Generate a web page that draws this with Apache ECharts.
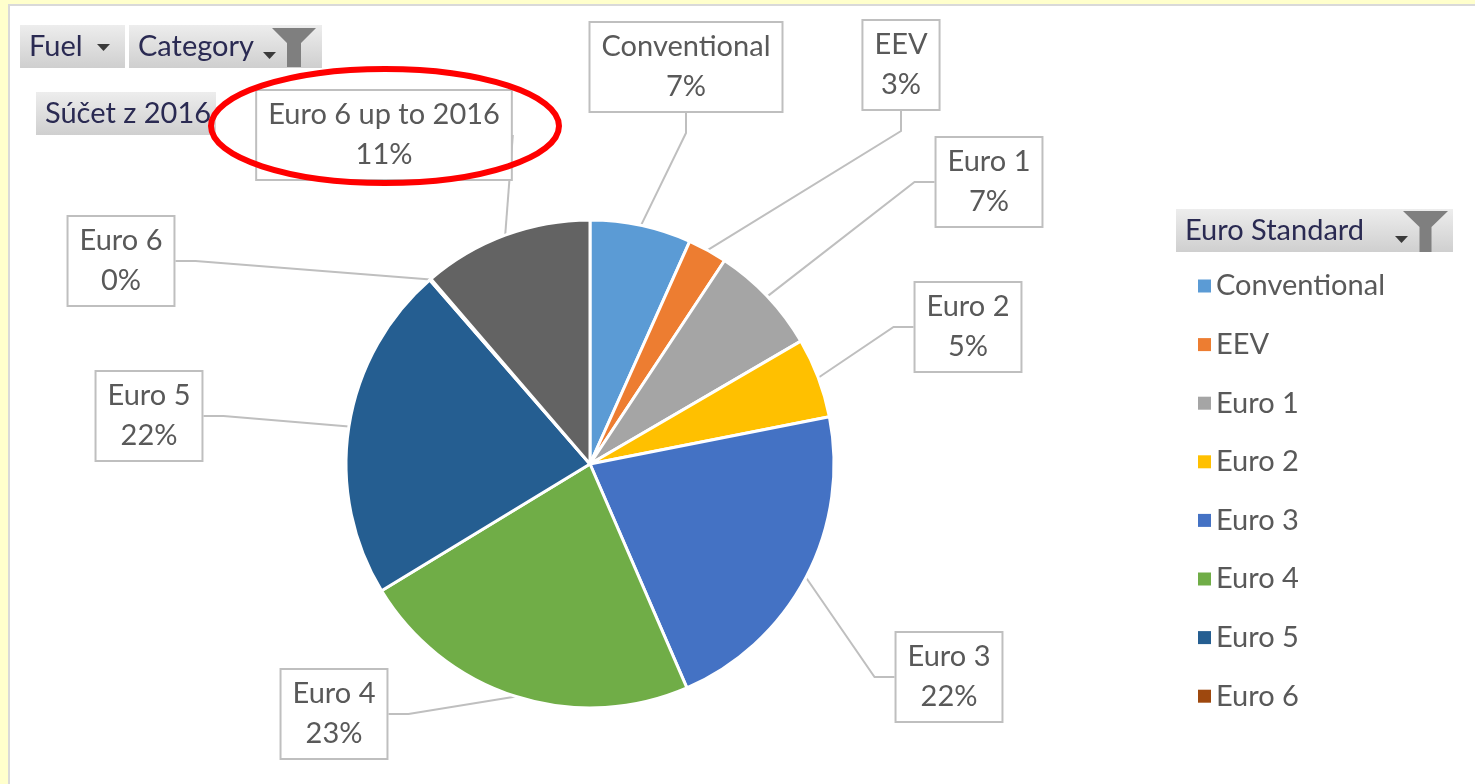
<!DOCTYPE html>
<html><head><meta charset="utf-8">
<script src="https://cdn.jsdelivr.net/npm/echarts@6/dist/echarts.min.js"></script>
<style>html,body{margin:0;padding:0;background:#FFFFCC;overflow:hidden}#c{width:1475px;height:784px;}</style>
</head><body><div id="c"></div>
<script>
// ---- data ----
const categories = ['Conventional','EEV','Euro 1','Euro 2','Euro 3','Euro 4','Euro 5','Euro 6','Euro 6 up to 2016'];
const shares = [6.7, 2.6, 7.3, 5.3, 21.6, 22.8, 22.3, 0.1, 11.3];
const legendItems = ['Conventional','EEV','Euro 1','Euro 2','Euro 3','Euro 4','Euro 5','Euro 6'];
const filterButtons = ['Fuel','Category'];
const valueButton = 'Súčet z 2016';
const legendTitle = 'Euro Standard';

// ---- style / layout ----
const colors = ['#5B9BD5','#ED7D31','#A5A5A5','#FFC000','#4472C4','#70AD47','#255E91','#9E480E','#636363'];
const labelCenters = [[686,67],[901,65],[989,182],[968,327],[949,677],[334,714],[149,416],[121,261],[384,135]];
const FONT = 'Lato';
const total = shares.reduce((a,b)=>a+b,0);

const btnFill = new echarts.graphic.LinearGradient(0,0,0,1,[{offset:0,color:'#EDEDED'},{offset:1,color:'#CFCFCF'}]);
function btn(x,y,w,h,text){
  return [
    {type:'rect', shape:{x:x,y:y,width:w,height:h}, style:{fill:btnFill}, z:1},
    {type:'text', x:x+9, y:y+h/2, style:{text:text, font:'29px '+FONT, fill:'#2A2A52', verticalAlign:'middle'}, z:2}
  ];
}
function arrow(x,y){ return {type:'polygon', shape:{points:[[x,y],[x+13,y],[x+6.5,y+7]]}, style:{fill:'#3A3A3A'}, z:3}; }
function funnel(l,r,top,neck,bottom,stemHalf){
  const m=(l+r)/2;
  return {type:'polygon', shape:{points:[[l,top],[r,top],[m+stemHalf,neck],[m+stemHalf,bottom],[m-stemHalf,bottom],[m-stemHalf,neck]]}, style:{fill:'#7F7F7F'}, z:3};
}

const graphics = [
  {type:'rect', shape:{x:8,y:4,width:1470,height:790}, style:{fill:'#D9D9D9'}, z:-10},
  {type:'rect', shape:{x:10,y:6,width:1470,height:790}, style:{fill:'#FFFFFF'}, z:-9},
  ...btn(20,25,105,43,filterButtons[0]), arrow(97,44),
  ...btn(129,25,193,43,filterButtons[1]), arrow(263,52), funnel(272,316,28,43,67,7),
  ...btn(36,92,180,43,valueButton),
  ...btn(1176,209,277,43,legendTitle), arrow(1395,236), funnel(1403,1448,211,227,252,6),
  {type:'ellipse', shape:{cx:385, cy:126, rx:174, ry:57}, style:{fill:'none', stroke:'#FF0000', lineWidth:6}, z:100}
];

const chart = echarts.init(document.getElementById('c'));
chart.setOption({
  backgroundColor:'#FFFFCC',
  animation:false,
  color: colors,
  graphic: graphics,
  legend: {
    data: legendItems, orient:'vertical', left:1193, top:266,
    itemWidth:13, itemHeight:13, itemGap:28.6, itemTextGap:9, icon:'rect',
    itemStyle:{borderWidth:0},
    textStyle:{fontFamily:FONT, fontSize:29, color:'#595959', lineHeight:30},
    selectedMode:false
  },
  series: [{
    type:'pie', center:[590,464], radius:244, startAngle:90, clockwise:true,
    avoidLabelOverlap:false, silent:true,
    data: categories.map((n,i)=>({name:n, value:shares[i]})),
    itemStyle:{borderColor:'#FFFFFF', borderWidth:3},
    label:{
      show:true, position:'outside',
      formatter: p => p.name + '\n' + Math.round(p.value/total*100) + '%',
      fontFamily:FONT, fontSize:29, color:'#595959', lineHeight:40,
      backgroundColor:'#FFFFFF', borderColor:'#BFBFBF', borderWidth:2, padding:[4,11], align:'center'
    },
    labelLine:{show:true, length:20, length2:20, lineStyle:{color:'#BFBFBF', width:2}},
    labelLayout: p => ({x:labelCenters[p.dataIndex][0], y:labelCenters[p.dataIndex][1], align:'center', verticalAlign:'middle'}),
    emphasis:{disabled:true}
  }]
});
</script></body></html>
